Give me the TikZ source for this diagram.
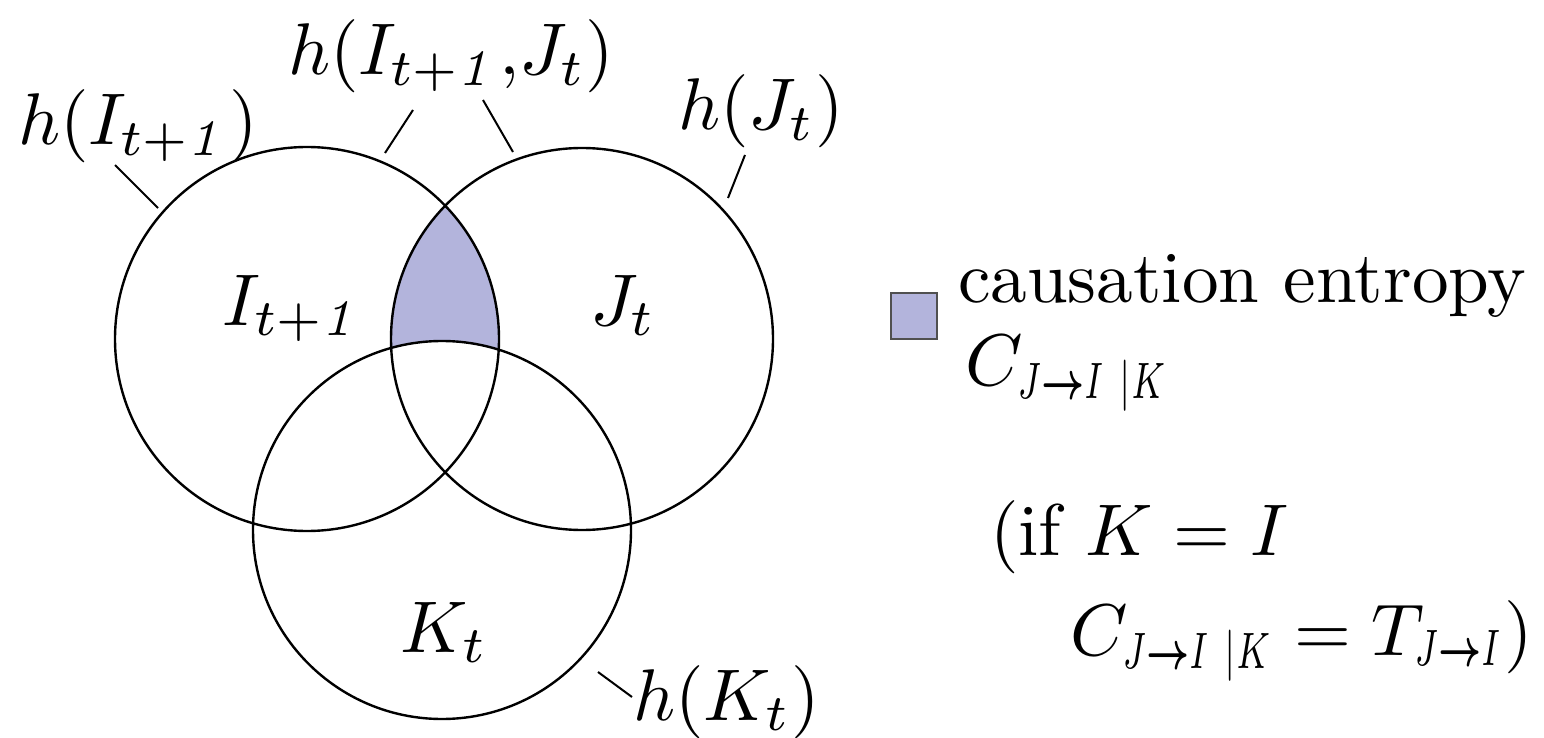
\documentclass[tikz,border=0pt]{standalone}
\usepackage{amsmath,bm}
\definecolor{shadeblue}{RGB}{179,180,220}
\definecolor{boxgray}{RGB}{80,80,80}
\newcommand{\lsub}[1]{_{\scalebox{0.65}[1]{$\scriptstyle #1$}}}
\newcommand{\arr}{\bm{\rightarrow}}
\begin{document}
\begin{tikzpicture}[x=0.5pt,y=-0.5pt,
  txt/.style={inner sep=0pt,outer sep=0pt,scale=3.66},
  venn/.style={line width=1.2pt,draw=black},
  tickline/.style={line width=1pt,draw=black}]
\useasboundingbox (0,0) rectangle (1544,738);
% centres
\coordinate (cI) at (307,339);
\coordinate (cJ) at (582,339);
\coordinate (cK) at (442,530);
% shaded region
\begin{scope}
  \clip (cI) circle[radius=192];
  \clip (cJ) circle[radius=191];
  \fill[shadeblue] (cI) circle[radius=192];
  \fill[white] (cK) circle[radius=189];
\end{scope}
% circles
\draw[venn] (cI) circle[radius=192];
\draw[venn] (cJ) circle[radius=191];
\draw[venn] (cK) circle[radius=189];
% inner labels
\node[txt,anchor=base west] (lI) at (222,325) {$I_{t+\mathit{1}}$};
\node[txt,anchor=base west] (lJ) at (590,325) {$J_t$};
\node[txt,anchor=base west] (lK) at (400,652) {$K_t$};
% outer labels
\node[txt,anchor=base west] (hI) at (18,145) {$h(I_{t+\mathit{1}})$};
\node[txt,anchor=base west] (hIJ) at (288,75) {$h(I_{t+\mathit{1}}{,}J_t)$};
\node[txt,anchor=base west] (hJ) at (678,130) {$h(J_t)$};
\node[txt,anchor=base west] (hK) at (633,720) {$h(K_t)$};
% ticks
\coordinate (tI1) at (115,165); \coordinate (tI2) at (158,208);
\coordinate (tA1) at (413,110); \coordinate (tA2) at (385,153);
\coordinate (tB1) at (483,100); \coordinate (tB2) at (513,152);
\coordinate (tJ1) at (745,155); \coordinate (tJ2) at (728,198);
\coordinate (tK1) at (598,672); \coordinate (tK2) at (632,697);
\draw[tickline] (tI1) -- (tI2);
\draw[tickline] (tA1) -- (tA2);
\draw[tickline] (tB1) -- (tB2);
\draw[tickline] (tJ1) -- (tJ2);
\draw[tickline] (tK1) -- (tK2);
% legend
\node[draw=boxgray,fill=shadeblue,line width=1.2pt,minimum width=23pt,minimum height=23pt,inner sep=0pt,anchor=center] (box) at (914,316) {};
\node[txt,anchor=base west] (le1) at (958,302) {causation entropy};
\node[txt,anchor=base west] (le2) at (965,385) {$C\lsub{J\arr I\ |K}$};
\node[txt,anchor=base west] (le3) at (990,555) {(if $K = I$};
\node[txt,anchor=base west] (le4) at (1070,655) {$C\lsub{J\arr I\ |K} = T\lsub{J\arr I}$)};
\end{tikzpicture}
\end{document}
